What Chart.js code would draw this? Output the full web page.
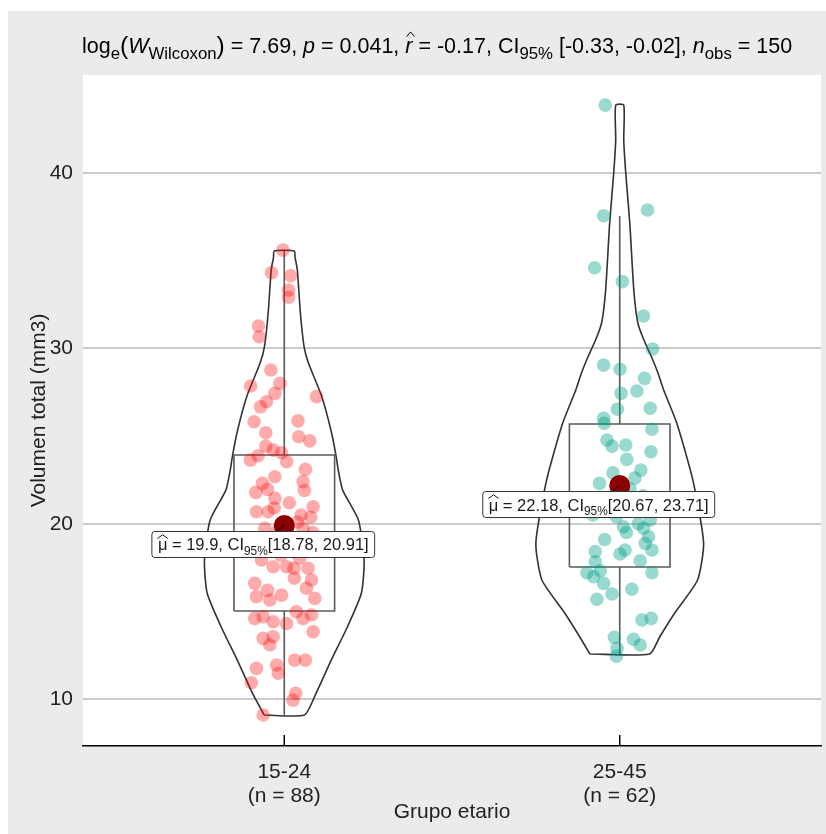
<!DOCTYPE html>
<html>
<head>
<meta charset="utf-8">
<script src="https://cdn.jsdelivr.net/npm/chart.js@4.4.1/dist/chart.umd.min.js"></script>
<style>
  html, body { margin: 0; padding: 0; background: #fff; }
  canvas { display: block; }
</style>
</head>
<body>
<canvas id="violinChart" width="826" height="834"></canvas>
<script>
// Groups and axis ticks
const groups = ['15-24', '25-45'];
const groupN = [88, 62];
const yTicks = [10, 20, 30, 40];

// Raw observations (value) and their horizontal jitter (in category units)
const volume1 = [35.61, 34.32, 34.15, 33.33, 32.92, 31.28, 30.67, 28.77, 27.86, 28.01,
  27.44, 27.25, 26.96, 26.67, 25.82, 25.87, 25.19, 24.96, 24.73, 24.43,
  24.20, 24.05, 23.88, 23.63, 23.54, 23.10, 22.68, 22.40, 21.79, 21.96,
  21.45, 20.97, 20.68, 20.68, 20.37, 19.74, 19.74, 18.03, 17.93, 17.55,
  17.55, 17.46, 17.46, 16.79, 16.60, 16.32, 15.84, 15.65, 15.93, 15.74,
  14.60, 14.69, 14.41, 14.31, 14.98, 14.60, 14.79, 13.84, 13.46, 13.55,
  13.08, 12.22, 12.22, 11.75, 11.94, 11.47, 10.93, 10.33, 9.94, 9.09,
  20.10, 19.60, 19.30, 19.00, 18.80, 18.60, 18.40, 18.20, 19.50, 19.20,
  20.50, 20.90, 21.20, 21.90, 22.30, 16.90, 16.20, 18.90];
const jitter1 = [-0.004, -0.038, 0.019, 0.013, 0.013, -0.077, -0.075, -0.040, -0.100, -0.013,
  -0.028, 0.096, -0.053, -0.071, -0.090, 0.041, -0.055, 0.043, 0.076, -0.055,
  -0.033, -0.008, -0.078, -0.101, 0.007, 0.063, -0.028, 0.056, -0.085, -0.050,
  -0.028, 0.086, -0.083, -0.048, 0.079, -0.058, 0.056, 0.046, -0.068, -0.033,
  0.007, 0.029, 0.071, 0.081, -0.088, 0.066, -0.083, -0.043, -0.008, 0.091,
  -0.088, -0.063, -0.033, 0.007, 0.036, 0.056, 0.081, 0.086, -0.063, -0.033,
  -0.043, 0.031, 0.063, -0.083, -0.023, -0.018, -0.098, 0.034, 0.026, -0.063,
  0.040, -0.020, 0.010, -0.045, 0.070, -0.075, 0.025, -0.010, 0.085, -0.090,
  0.050, -0.030, 0.015, 0.060, -0.065, 0.030, -0.050, 0.000];

const volume2 = [43.88, 37.57, 37.90, 34.60, 33.81, 31.85, 29.97, 29.05, 28.81, 28.29,
  27.44, 27.57, 26.53, 26.59, 26.02, 25.73, 25.39, 24.77, 24.43, 24.49,
  24.11, 23.67, 23.06, 20.97, 20.21, 19.83, 19.74, 19.26, 18.88, 18.41,
  18.27, 18.50, 18.50, 17.83, 17.89, 17.20, 17.32, 16.98, 17.20, 16.60,
  15.99, 16.26, 15.69, 14.51, 14.60, 13.52, 13.41, 13.08, 12.89, 12.45,
  22.90, 22.60, 22.30, 21.90, 21.60, 21.30, 22.00, 20.50, 20.00, 20.40,
  19.50, 19.10];
const jitter2 = [-0.043, -0.048, 0.083, -0.075, 0.008, 0.071, 0.098, -0.048, 0.001, 0.074,
  0.004, 0.051, -0.007, 0.091, -0.048, -0.046, 0.096, -0.038, -0.023, 0.018,
  0.093, 0.021, 0.063, 0.029, 0.091, 0.011, 0.071, 0.086, 0.076, -0.073,
  0.001, 0.016, 0.096, -0.073, 0.061, -0.098, -0.058, -0.078, 0.096, -0.048,
  -0.023, 0.036, -0.068, 0.066, 0.094, -0.016, 0.041, 0.061, -0.008, -0.010,
  -0.020, 0.045, -0.060, 0.010, 0.070, -0.035, 0.030, -0.080, 0.055, -0.010,
  0.020, -0.045];

// Violin outlines: value levels and half-widths (category units)
const violinY1 = [9.09, 10.34, 12.22, 14.11, 16.05, 17.93, 20.21, 21.92, 23.06, 23.92, 25.35, 27.25, 29.17, 30.10, 32.02, 34.47, 35.21, 35.56];
const violinW1 = [0.060, 0.095, 0.140, 0.188, 0.230, 0.238, 0.221, 0.174, 0.161, 0.154, 0.139, 0.112, 0.072, 0.059, 0.048, 0.039, 0.032, 0.030];
const violinY2 = [12.57, 13.54, 14.91, 16.79, 18.90, 22.49, 25.74, 27.63, 28.60, 29.51, 30.48, 31.45, 33.33, 37.15, 40.00, 41.88, 43.88];
const violinW2 = [0.089, 0.119, 0.164, 0.232, 0.250, 0.218, 0.170, 0.131, 0.114, 0.095, 0.072, 0.054, 0.042, 0.030, 0.018, 0.012, 0.012];

// Box plot statistics per group
const boxQ1 = [15.02, 17.53];
const boxQ3 = [23.92, 25.69];
const whiskerLow = [9.09, 12.57];
const whiskerHigh = [35.55, 37.55];

// Means and their confidence intervals
const meanValues = [19.9, 22.18];
const ciLow = [18.78, 20.67];
const ciHigh = [20.91, 23.71];

const FONT = '"Liberation Sans", Arial, sans-serif';
const BOX_HALF = 0.15;

function violinOutline(center, ys, ws) {
    const pts = [];
    for (let i = 0; i < ys.length; i++) pts.push({ x: center - ws[i], y: ys[i] });
    for (let i = ys.length - 1; i >= 0; i--) pts.push({ x: center + ws[i], y: ys[i] });
    pts.push({ x: center - ws[0], y: ys[0] });
    return pts;
}

function lineSet(data, color, width, order, tension) {
    return {
        type: 'line', data: data, borderColor: color, borderWidth: width,
        pointRadius: 0, fill: false, tension: tension || 0, order: order
    };
}

const datasets = [];
const pointColors = ['rgba(255, 0, 0, 0.33)', 'rgba(0, 160, 135, 0.4)'];
const vols = [volume1, volume2];
const jits = [jitter1, jitter2];

groups.forEach((g, i) => {
    const c = i + 1;
    // violin
    const vy = i === 0 ? violinY1 : violinY2;
    const vw = i === 0 ? violinW1 : violinW2;
    datasets.push(lineSet(violinOutline(c, vy, vw), '#333333', 1.6, 4, 0.2));
    // box
    datasets.push(lineSet([
        { x: c - BOX_HALF, y: boxQ1[i] }, { x: c - BOX_HALF, y: boxQ3[i] },
        { x: c + BOX_HALF, y: boxQ3[i] }, { x: c + BOX_HALF, y: boxQ1[i] },
        { x: c - BOX_HALF, y: boxQ1[i] }
    ], '#5a5a5a', 1.6, 3));
    // whiskers
    datasets.push(lineSet([{ x: c, y: boxQ3[i] }, { x: c, y: whiskerHigh[i] }], '#5a5a5a', 1.6, 3));
    datasets.push(lineSet([{ x: c, y: boxQ1[i] }, { x: c, y: whiskerLow[i] }], '#5a5a5a', 1.6, 3));
    // jittered observations
    datasets.push({
        type: 'scatter',
        data: vols[i].map((v, k) => ({ x: c + jits[i][k], y: v })),
        backgroundColor: pointColors[i], borderWidth: 0, pointRadius: 6.8, order: 2
    });
});

// means
datasets.push({
    type: 'scatter',
    data: meanValues.map((m, i) => ({ x: i + 1, y: m })),
    backgroundColor: '#8b0000', borderWidth: 0, pointRadius: 10.5, order: 1
});

// draw a run of text pieces (subscripts, italics, hats)
function drawRich(ctx, parts, x, y, size, color, measureOnly, subRatio) {
    const sr = subRatio || 0.72;
    let cx = x;
    parts.forEach(p => {
        let s = size, dy = 0;
        if (p.sub) { s = size * sr; dy = size * 0.26; }
        if (p.big) { s = size * 1.15; dy = size * 0.05; }
        ctx.font = (p.italic ? 'italic ' : '') + s + 'px ' + FONT;
        const w = ctx.measureText(p.text).width;
        if (!measureOnly) {
            ctx.fillStyle = color;
            ctx.fillText(p.text, cx, y + dy);
            if (p.hat) {
                const shift = p.italic ? size * 0.08 : 0;
                const top = y - size * (p.italic ? 0.98 : 0.95);
                ctx.save();
                ctx.strokeStyle = color;
                ctx.lineWidth = 1;
                ctx.beginPath();
                ctx.moveTo(cx + shift - w * 0.05, top + size * 0.22);
                ctx.lineTo(cx + shift + w * 0.5, top);
                ctx.lineTo(cx + shift + w * 1.05, top + size * 0.22);
                ctx.stroke();
                ctx.restore();
            }
        }
        cx += w;
    });
    return cx - x;
}

const titleParts = [
    { text: 'log' }, { text: 'e', sub: true }, { text: '(', big: true },
    { text: 'W', italic: true }, { text: 'Wilcoxon', sub: true }, { text: ')', big: true },
    { text: ' = 7.69, ' }, { text: 'p', italic: true }, { text: ' = 0.041, ' },
    { text: 'r', italic: true, hat: true }, { text: ' = -0.17, CI' }, { text: '95%', sub: true },
    { text: ' [-0.33, -0.02], ' }, { text: 'n', italic: true }, { text: 'obs', sub: true },
    { text: ' = 150' }
];

const backgroundPlugin = {
    id: 'panelBackground',
    beforeDraw(chart) {
        const { ctx, chartArea } = chart;
        ctx.save();
        ctx.fillStyle = '#ffffff';
        ctx.fillRect(0, 0, chart.width, chart.height);
        ctx.fillStyle = '#ebebeb';
        ctx.fillRect(8, 11, chart.width - 8, chart.height - 11);
        ctx.fillStyle = '#ffffff';
        ctx.fillRect(chartArea.left, chartArea.top, chartArea.right - chartArea.left, chartArea.bottom - chartArea.top);
        ctx.restore();
    }
};

const titlePlugin = {
    id: 'richTitle',
    afterDraw(chart) {
        const ctx = chart.ctx;
        ctx.save();
        ctx.textBaseline = 'alphabetic';
        drawRich(ctx, titleParts, chart.chartArea.left - 1, 53, 21.5, '#000000', false, 0.78);
        ctx.restore();
    }
};

const innerTicksPlugin = {
    id: 'innerTicks',
    afterDatasetsDraw(chart) {
        const { ctx } = chart;
        const xs = chart.scales.x;
        ctx.save();
        ctx.strokeStyle = '#000000';
        ctx.lineWidth = 1.5;
        xs.ticks.forEach(t => {
            const px = xs.getPixelForValue(t.value);
            ctx.beginPath();
            ctx.moveTo(px, xs.top);
            ctx.lineTo(px, xs.top - 11);
            ctx.stroke();
        });
        ctx.restore();
    }
};

const meanLabelPlugin = {
    id: 'meanLabels',
    afterDatasetsDraw(chart) {
        const { ctx } = chart;
        const xs = chart.scales.x, ys = chart.scales.y;
        ctx.save();
        ctx.textBaseline = 'alphabetic';
        meanValues.forEach((m, i) => {
            const parts = [
                { text: '\u03bc', hat: true }, { text: ' = ' + m + ', CI' },
                { text: '95%', sub: true }, { text: '[' + ciLow[i] + ', ' + ciHigh[i] + ']' }
            ];
            const size = 16.5;
            const mx = xs.getPixelForValue(i + 1);
            const my = ys.getPixelForValue(m);
            const tw = drawRich(ctx, parts, 0, 0, size, '#000', true);
            const bw = tw + 12, bh = 26;
            const left = mx - 21 - bw / 2, top = my + 6;
            // connector
            ctx.strokeStyle = '#000';
            ctx.lineWidth = 1;
            ctx.beginPath();
            ctx.moveTo(mx, my);
            ctx.lineTo(mx - 8, top);
            ctx.stroke();
            // label box
            ctx.beginPath();
            ctx.roundRect(left, top, bw, bh, 3);
            ctx.fillStyle = '#ffffff';
            ctx.fill();
            ctx.strokeStyle = '#333333';
            ctx.stroke();
            drawRich(ctx, parts, left + 6, top + 19, size, '#1a1a1a');
        });
        ctx.restore();
    }
};

new Chart(document.getElementById('violinChart').getContext('2d'), {
    type: 'scatter',
    data: { datasets: datasets },
    options: {
        responsive: false,
        animation: false,
        layout: { autoPadding: false, padding: { top: 75, right: 5, left: 0, bottom: 0 } },
        plugins: { legend: { display: false }, tooltip: { enabled: false } },
        scales: {
            x: {
                type: 'linear', min: 0.4, max: 2.6,
                afterBuildTicks: s => { s.ticks = [1, 2].map(v => ({ value: v })); },
                afterFit: s => { s.height = 88; s.paddingLeft = 0; s.paddingRight = 0; },
                grid: { display: true, drawOnChartArea: false, drawTicks: false },
                border: { display: true, color: '#000000', width: 1.5 },
                ticks: {
                    padding: 14, color: '#222222', autoSkip: false, maxRotation: 0,
                    font: { family: FONT, size: 21, lineHeight: 1.15 },
                    callback: (v, i) => [groups[i], '(n = ' + groupN[i] + ')']
                },
                title: {
                    display: true, text: 'Grupo etario', color: '#222222',
                    font: { family: FONT, size: 21 }, padding: { top: 0, bottom: 9 }
                }
            },
            y: {
                type: 'linear', min: 7.32, max: 45.6,
                afterBuildTicks: s => { s.ticks = yTicks.map(v => ({ value: v })); },
                afterFit: s => { s.width = 83; },
                grid: { color: '#cccccc', lineWidth: 2, drawTicks: false },
                border: { display: false },
                ticks: { padding: 10, color: '#222222', font: { family: FONT, size: 21 } },
                title: {
                    display: true, text: 'Volumen total (mm3)', color: '#222222',
                    font: { family: FONT, size: 21 }, padding: { top: 27, bottom: 0 }
                }
            }
        }
    },
    plugins: [backgroundPlugin, titlePlugin, innerTicksPlugin, meanLabelPlugin]
});
</script>
</body>
</html>
